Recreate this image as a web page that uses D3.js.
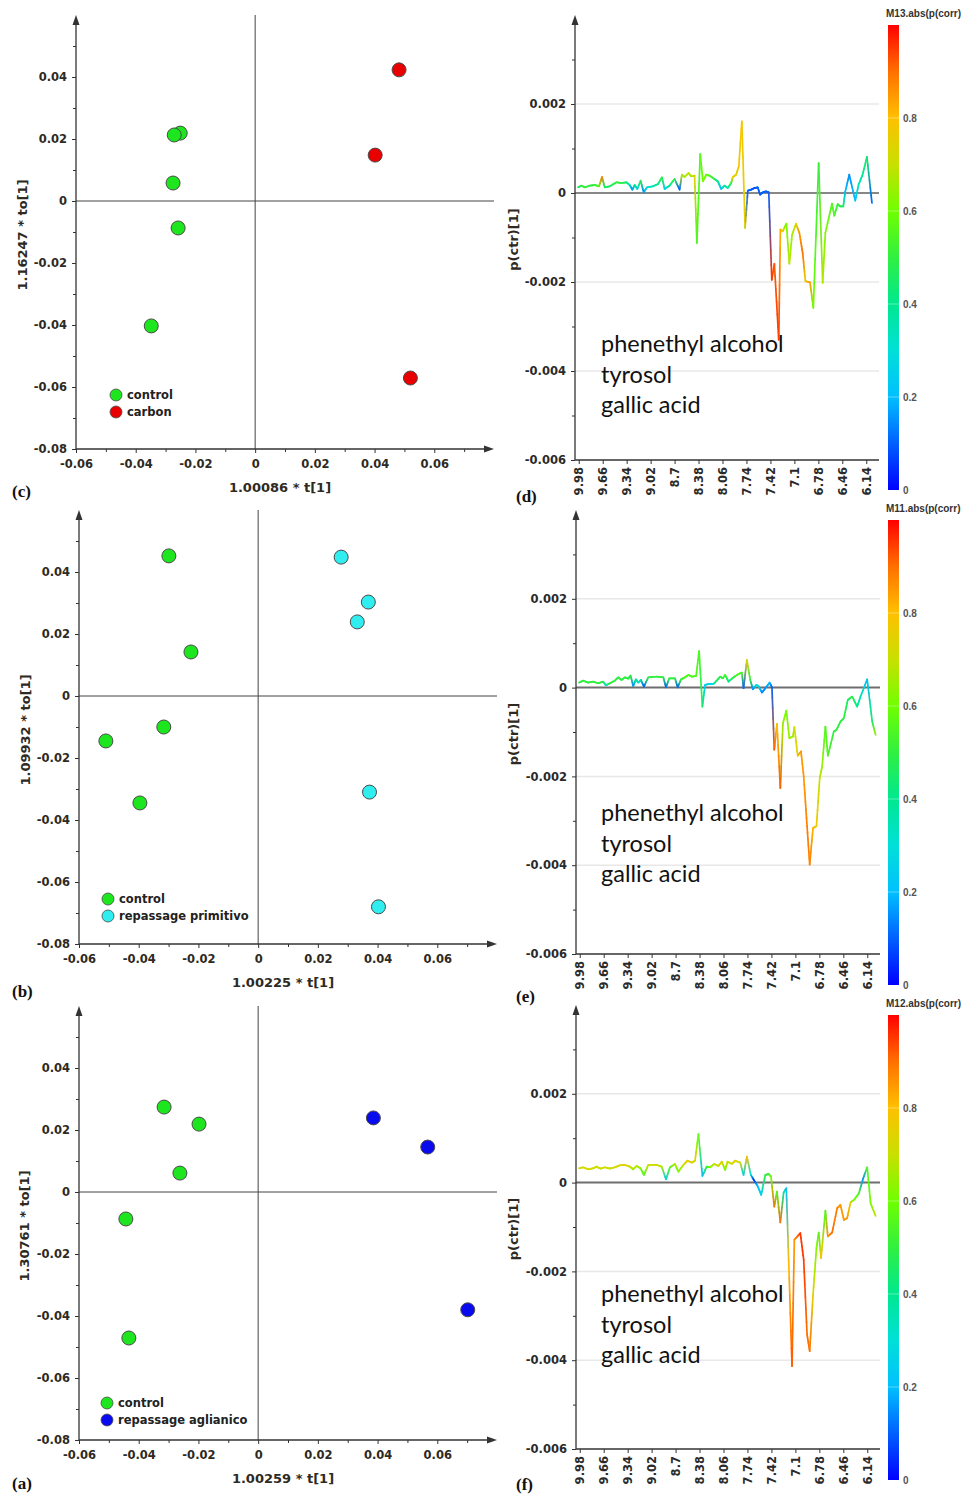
<!DOCTYPE html>
<html><head><meta charset="utf-8">
<script src="https://cdn.jsdelivr.net/npm/d3@7"></script>
<style>html,body{margin:0;padding:0;background:#fff}svg{display:block}</style>
</head><body>
<svg id="fig" width="977" height="1494"></svg>
<script>
// ---------------- DATA ----------------
// Score plots: ticks
const scoreXTicks = [-0.06, -0.04, -0.02, 0, 0.02, 0.04, 0.06];
const scoreYTicks = [-0.08, -0.06, -0.04, -0.02, 0, 0.02, 0.04];
// (c) control vs carbon
const cControlX = [-0.0251, -0.0271, -0.0275, -0.0258, -0.0348];
const cControlY = [0.0219, 0.0213, 0.0058, -0.0087, -0.0403];
const cCarbonX = [0.0482, 0.0402, 0.0520];
const cCarbonY = [0.0423, 0.0148, -0.0571];
// (b) control vs repassage primitivo
const bControlX = [-0.0299, -0.0225, -0.0316, -0.0510, -0.0396];
const bControlY = [0.0452, 0.0142, -0.0100, -0.0145, -0.0345];
const bPrimitivoX = [0.0278, 0.0369, 0.0332, 0.0373, 0.0403];
const bPrimitivoY = [0.0448, 0.0303, 0.0239, -0.0310, -0.0680];
// (a) control vs repassage aglianico
const aControlX = [-0.0315, -0.0198, -0.0262, -0.0443, -0.0433];
const aControlY = [0.0274, 0.0219, 0.0061, -0.0087, -0.0471];
const aAglianicoX = [0.0386, 0.0568, 0.0702];
const aAglianicoY = [0.0239, 0.0145, -0.0380];

// Loading plots: ticks
const ppmTicks = [9.98, 9.66, 9.34, 9.02, 8.7, 8.38, 8.06, 7.74, 7.42, 7.1, 6.78, 6.46, 6.14];
const loadYTicks = [-0.006, -0.004, -0.002, 0, 0.002];
const corrTicks = [0, 0.2, 0.4, 0.6, 0.8];
const annotations = ["phenethyl alcohol", "tyrosol", "gallic acid"];

// (d) M13
const dPpm = [9.99,9.944,9.90,9.833,9.767,9.709,9.669,9.633,9.567,9.478,9.411,9.344,9.30,9.264,9.233,9.198,9.153,9.113,9.069,8.989,8.922,8.869,8.833,8.767,8.70,8.633,8.602,8.567,8.513,8.478,8.433,8.402,8.358,8.322,8.278,8.233,8.167,8.122,8.078,8.033,7.989,7.944,7.922,7.878,7.842,7.802,7.758,7.722,7.678,7.633,7.589,7.558,7.522,7.478,7.442,7.402,7.367,7.309,7.287,7.256,7.207,7.167,7.131,7.078,7.033,6.989,6.953,6.891,6.847,6.776,6.722,6.687,6.598,6.567,6.522,6.491,6.447,6.42,6.367,6.287,6.242,6.189,6.131,6.064];
const dLoad = [0.000127,0.000165,0.000127,0.000165,0.00018,0.00015,0.00036,0.000127,0.00015,0.00024,0.000225,0.00024,0.00018,0.000075,0.00018,0.00009,0.000277,0.000015,0.000127,0.00015,0.0002,0.000352,0.00009,0.000165,0.000315,0.000075,0.000412,0.00036,0.000449,0.000375,0.00039,-0.001124,0.000876,0.000262,0.000412,0.00039,0.000315,0.000262,0.00009,0.000165,0.000112,0.000225,0.00036,0.000412,0.0006,0.00161,-0.000786,0.000052,0.000075,0.000112,0.000127,-0.000037,0.000015,0.000037,0.000015,-0.00195,-0.00159,-0.0033,-0.00082,-0.00086,-0.00069,-0.00159,-0.00094,-0.00069,-0.0009,-0.00135,-0.00198,-0.00201,-0.00258,0.00067,-0.00202,-0.0009,-0.00024,-0.00051,-0.00025,-0.0003,-0.0003,0.000037,0.000412,-0.00017,0.00019,0.000412,0.00081,-0.000225];
const dCorr = [0.45,0.5,0.5,0.5,0.5,0.55,0.88,0.45,0.45,0.5,0.5,0.45,0.35,0.15,0.4,0.25,0.5,0.15,0.3,0.35,0.4,0.5,0.25,0.4,0.5,0.1,0.7,0.65,0.7,0.65,0.75,0.55,0.55,0.6,0.6,0.55,0.5,0.4,0.2,0.4,0.35,0.5,0.75,0.75,0.78,0.78,0.75,0.1,0.1,0.08,0.1,0.1,0.1,0.1,0.1,0.95,0.92,0.95,0.82,0.78,0.6,0.68,0.65,0.72,0.85,0.9,0.75,0.85,0.6,0.5,0.68,0.62,0.55,0.55,0.5,0.5,0.45,0.2,0.15,0.2,0.35,0.4,0.45,0.1];

// (e) M11
const ePpm = [9.989,9.935,9.868,9.801,9.734,9.668,9.632,9.578,9.511,9.467,9.422,9.377,9.333,9.301,9.266,9.23,9.199,9.163,9.123,9.065,8.953,8.864,8.828,8.784,8.708,8.672,8.627,8.574,8.529,8.484,8.426,8.386,8.342,8.306,8.261,8.194,8.15,8.105,8.069,8.038,7.993,7.926,7.859,7.815,7.792,7.748,7.703,7.667,7.623,7.592,7.547,7.502,7.444,7.413,7.382,7.346,7.301,7.266,7.221,7.181,7.132,7.114,7.069,7.025,6.989,6.944,6.909,6.864,6.819,6.775,6.743,6.699,6.667,6.587,6.551,6.498,6.453,6.4,6.342,6.275,6.23,6.141,6.074,6.029];
const eLoad = [0.000112,0.000157,0.000112,0.000135,0.000097,0.000135,0.000052,0.000097,0.000157,0.000232,0.000172,0.000232,0.000202,0.00027,0.000037,0.000187,0.000112,0.000172,0.000022,0.000232,0.000247,0.000232,0.000007,0.00021,0.00021,0.000007,0.000187,0.000232,0.000285,0.000247,0.000262,0.000824,-0.000427,0.00006,0.000082,0.000082,0.000157,0.000247,0.00021,0.000285,0.000135,0.000232,0.000307,0.000337,-0.000015,0.000622,0.000172,-0.000037,0.00006,0.000037,-0.000112,-0.000015,0.000112,0.000007,-0.0014,-0.000816,-0.002262,-0.000801,-0.000517,-0.001138,-0.001101,-0.000891,-0.001535,-0.001438,-0.002,-0.003123,-0.003985,-0.003161,-0.003123,-0.002037,-0.001775,-0.000876,-0.001535,-0.000989,-0.000951,-0.000764,-0.000689,-0.000277,-0.000202,-0.000427,-0.000202,0.000187,-0.000764,-0.001064];
const eCorr = [0.5,0.5,0.5,0.5,0.5,0.5,0.3,0.5,0.5,0.5,0.5,0.5,0.5,0.5,0.15,0.4,0.3,0.4,0.1,0.5,0.5,0.5,0.1,0.5,0.5,0.1,0.5,0.55,0.55,0.55,0.55,0.55,0.45,0.25,0.25,0.3,0.45,0.5,0.5,0.55,0.4,0.5,0.55,0.55,0.1,0.75,0.5,0.15,0.3,0.3,0.15,0.15,0.2,0.1,0.92,0.78,0.92,0.65,0.6,0.65,0.65,0.7,0.75,0.85,0.85,0.88,0.88,0.82,0.78,0.7,0.65,0.55,0.55,0.5,0.5,0.5,0.5,0.45,0.5,0.4,0.35,0.2,0.45,0.65];

// (f) M12
const fPpm = [9.989,9.935,9.868,9.801,9.757,9.703,9.645,9.578,9.511,9.444,9.377,9.31,9.266,9.221,9.167,9.123,9.065,8.953,8.886,8.828,8.775,8.708,8.663,8.596,8.542,8.484,8.44,8.395,8.342,8.284,8.239,8.185,8.127,8.083,8.038,8.007,7.949,7.904,7.837,7.792,7.748,7.694,7.65,7.605,7.556,7.502,7.458,7.426,7.382,7.346,7.301,7.257,7.221,7.19,7.145,7.114,7.034,6.989,6.944,6.909,6.864,6.819,6.788,6.757,6.699,6.667,6.609,6.542,6.498,6.453,6.409,6.364,6.31,6.252,6.194,6.141,6.096,6.029];
const fLoad = [0.000322,0.000345,0.0003,0.000322,0.00036,0.000315,0.000345,0.000315,0.000345,0.00039,0.000397,0.00036,0.0003,0.000375,0.000322,0.000172,0.000397,0.000397,0.00036,0.000075,0.000345,0.000419,0.000247,0.000397,0.000494,0.000449,0.000494,0.001094,0.00015,0.00036,0.000345,0.000419,0.000375,0.000472,0.000285,0.000472,0.000419,0.000494,0.000449,0.000172,0.000584,0.000172,0.000045,-0.000075,-0.000277,0.000172,0.000195,0.000135,-0.000539,-0.000202,-0.000899,-0.000225,-0.000127,-0.001738,-0.004134,-0.001288,-0.001138,-0.001738,-0.003423,-0.003797,-0.002524,-0.001476,-0.001124,-0.0017,-0.000629,-0.001213,-0.001124,-0.000577,-0.000502,-0.000839,-0.000801,-0.000449,-0.000375,-0.00024,0.000097,0.000345,-0.000464,-0.000749];
const fCorr = [0.72,0.72,0.72,0.72,0.7,0.7,0.72,0.7,0.72,0.72,0.75,0.72,0.65,0.7,0.62,0.55,0.7,0.72,0.68,0.25,0.55,0.68,0.6,0.7,0.75,0.75,0.75,0.6,0.2,0.5,0.6,0.7,0.7,0.75,0.6,0.72,0.7,0.75,0.72,0.25,0.8,0.3,0.05,0.2,0.25,0.5,0.5,0.6,0.9,0.55,0.9,0.4,0.2,0.8,0.92,0.85,0.95,0.95,0.9,0.9,0.75,0.62,0.55,0.8,0.55,0.85,0.9,0.88,0.85,0.85,0.85,0.75,0.6,0.55,0.15,0.55,0.6,0.7];

// ---------------- STYLE ----------------
const rampStops = [0, 0.1, 0.2, 0.3, 0.4, 0.5, 0.6, 0.7, 0.8, 0.9, 1];
const rampColors = ["#0000ff","#0060ff","#00c0ff","#00e0d8","#00e890","#30f040","#70ff00","#c8e000","#ffc000","#ff7000","#ff0000"];
const cmap = d3.scaleLinear().domain(rampStops).range(rampColors).interpolate(d3.interpolateRgb).clamp(true);

const svg = d3.select("#fig");
const SANS = "'DejaVu Sans', Verdana, sans-serif";
const TXT = "#2e2a22";
const fmt = v => String(+v.toFixed(3));

function zip(xs, ys) { return xs.map((v, i) => ({x: v, y: ys[i]})); }

function arrowUp(g, x, y, color) {
  g.append("path").attr("d", `M${x},${y} L${x-3.5},${y+10} L${x+3.5},${y+10} Z`).attr("fill", color);
}
function arrowRight(g, x, y, color) {
  g.append("path").attr("d", `M${x},${y} L${x-10},${y-3.5} L${x-10},${y+3.5} Z`).attr("fill", color);
}

// ---------------- SCORE PANELS ----------------
function scorePanel(cfg) {
  const g = svg.append("g");
  const x = d3.scaleLinear().domain([-0.06, 0.08]).range([cfg.x0, cfg.x1]);
  const y = d3.scaleLinear().domain([-0.08, 0.06]).range([cfg.y0, cfg.y1]);
  const axc = "#333";

  // zero lines
  g.append("line").attr("x1", x(0)).attr("x2", x(0)).attr("y1", y(0.06)).attr("y2", y(-0.08)).attr("stroke", "#444").attr("stroke-width", 1);
  g.append("line").attr("x1", x(-0.06)).attr("x2", x(0.08)).attr("y1", y(0)).attr("y2", y(0)).attr("stroke", "#444").attr("stroke-width", 1);

  // axes
  const xAx = d3.axisBottom(x).tickValues(scoreXTicks).tickSize(4).tickPadding(7).tickFormat(fmt);
  const xMinor = d3.axisBottom(x).tickValues(scoreXTicks.map(v => v + 0.01)).tickSize(3).tickFormat("");
  const yAx = d3.axisLeft(y).tickValues(scoreYTicks).tickSize(4).tickPadding(5).tickFormat(fmt);
  const yMinor = d3.axisLeft(y).tickValues(scoreYTicks.map(v => v + 0.01)).tickSize(3).tickFormat("");
  [xAx, xMinor].forEach(a => {
    const ag = g.append("g").attr("transform", `translate(0,${cfg.y0})`).call(a);
    ag.select(".domain").remove();
  });
  [yAx, yMinor].forEach(a => {
    const ag = g.append("g").attr("transform", `translate(${cfg.x0},0)`).call(a);
    ag.select(".domain").remove();
  });
  g.selectAll(".tick line").attr("stroke", axc);
  g.selectAll(".tick text").attr("font-family", SANS).attr("font-weight", "bold").attr("font-size", "11.5px").attr("fill", TXT);

  g.append("line").attr("x1", cfg.x0).attr("x2", x(0.08) - 4).attr("y1", cfg.y0).attr("y2", cfg.y0).attr("stroke", axc).attr("stroke-width", 1.3);
  g.append("line").attr("x1", cfg.x0).attr("x2", cfg.x0).attr("y1", cfg.y0).attr("y2", y(0.06) + 4).attr("stroke", axc).attr("stroke-width", 1.3);
  arrowRight(g, x(0.08), cfg.y0, axc);
  arrowUp(g, cfg.x0, y(0.06), axc);

  // axis titles
  g.append("text").attr("x", (x(-0.06) + x(0.08)) / 2 - 5).attr("y", cfg.y0 + 43)
    .attr("text-anchor", "middle").attr("font-family", SANS).attr("font-weight", "bold").attr("font-size", "13px").attr("fill", TXT).text(cfg.xTitle);
  g.append("text").attr("transform", `translate(${cfg.yTitleX},${(cfg.y0 + cfg.y1) / 2 + 3}) rotate(-90)`)
    .attr("text-anchor", "middle").attr("font-family", SANS).attr("font-weight", "bold").attr("font-size", "13px").attr("fill", TXT).text(cfg.yTitle);

  // points
  cfg.groups.forEach(gr => {
    g.selectAll(null).data(gr.pts).enter().append("circle")
      .attr("cx", d => x(d.x)).attr("cy", d => y(d.y)).attr("r", 7)
      .attr("fill", gr.color).attr("stroke", "#4a4a4a").attr("stroke-width", 1);
  });

  // legend
  cfg.groups.forEach((gr, i) => {
    const ly = cfg.legY + i * 17;
    g.append("circle").attr("cx", cfg.legX).attr("cy", ly).attr("r", 6).attr("fill", gr.color).attr("stroke", "#4a4a4a").attr("stroke-width", 0.8);
    g.append("text").attr("x", cfg.legX + 11).attr("y", ly + 4).attr("font-family", SANS).attr("font-weight", "bold").attr("font-size", "11.5px").attr("fill", "#222").text(gr.name);
  });

  // panel letter
  g.append("text").attr("x", 12).attr("y", cfg.letterY).attr("font-family", "'Liberation Serif', 'DejaVu Serif', serif").attr("font-weight", "bold").attr("font-size", "17px").attr("fill", "#111").text(cfg.letter);
}

const GREEN = "#1ee61e", RED = "#e80000", CYAN = "#30eef0", BLUE = "#0a0aee";

scorePanel({x0: 76, x1: 494, y0: 449, y1: 15, xTitle: "1.00086 * t[1]", yTitle: "1.16247 * to[1]", yTitleX: 27,
  groups: [{name: "control", color: GREEN, pts: zip(cControlX, cControlY)}, {name: "carbon", color: RED, pts: zip(cCarbonX, cCarbonY)}],
  legX: 116, legY: 395, letter: "(c)", letterY: 497});
scorePanel({x0: 79, x1: 497, y0: 944, y1: 510, xTitle: "1.00225 * t[1]", yTitle: "1.09932 * to[1]", yTitleX: 30,
  groups: [{name: "control", color: GREEN, pts: zip(bControlX, bControlY)}, {name: "repassage primitivo", color: CYAN, pts: zip(bPrimitivoX, bPrimitivoY)}],
  legX: 108, legY: 899, letter: "(b)", letterY: 997});
scorePanel({x0: 79, x1: 497, y0: 1440, y1: 1006, xTitle: "1.00259 * t[1]", yTitle: "1.30761 * to[1]", yTitleX: 29,
  groups: [{name: "control", color: GREEN, pts: zip(aControlX, aControlY)}, {name: "repassage aglianico", color: BLUE, pts: zip(aAglianicoX, aAglianicoY)}],
  legX: 107, legY: 1403, letter: "(a)", letterY: 1489});

// ---------------- LOADING PANELS ----------------
let gradId = 0;
function loadingPanel(cfg) {
  const g = svg.append("g");
  const x = d3.scaleLinear().domain([10.03, 5.97]).range([cfg.x0, cfg.x1]);
  const y = d3.scaleLinear().domain([-0.006, 0.004]).range([cfg.yb, cfg.yt]);
  const axc = "#333";

  // grid
  [0.002, -0.002, -0.004].forEach(v => {
    g.append("line").attr("x1", cfg.x0).attr("x2", cfg.x1).attr("y1", y(v)).attr("y2", y(v)).attr("stroke", "#e8e8e8").attr("stroke-width", 1.5);
  });
  // zero line
  g.append("line").attr("x1", cfg.x0).attr("x2", cfg.x1).attr("y1", y(0)).attr("y2", y(0)).attr("stroke", cfg.zeroColor).attr("stroke-width", cfg.zeroWidth);

  // axes
  const yAx = d3.axisLeft(y).tickValues(loadYTicks).tickSize(4).tickPadding(5).tickFormat(fmt);
  const yMinor = d3.axisLeft(y).tickValues(loadYTicks.map(v => v + 0.001)).tickSize(3).tickFormat("");
  [yAx, yMinor].forEach(a => {
    const ag = g.append("g").attr("transform", `translate(${cfg.x0},0)`).call(a);
    ag.select(".domain").remove();
  });
  const xAx = d3.axisBottom(x).tickValues(ppmTicks).tickSize(4).tickFormat(v => String(v));
  const xg = g.append("g").attr("transform", `translate(0,${cfg.yb})`).call(xAx);
  xg.select(".domain").remove();
  xg.selectAll(".tick text").attr("transform", "rotate(-90)").attr("text-anchor", "end")
    .attr("x", -7).attr("y", 0).attr("dy", "0.35em");
  g.selectAll(".tick line").attr("stroke", axc);
  g.selectAll(".tick text").attr("font-family", SANS).attr("font-weight", "bold").attr("font-size", "11.5px").attr("fill", "#2a2a2a");

  g.append("line").attr("x1", cfg.x0).attr("x2", cfg.x1).attr("y1", cfg.yb).attr("y2", cfg.yb).attr("stroke", axc).attr("stroke-width", 1.3);
  g.append("line").attr("x1", cfg.x0).attr("x2", cfg.x0).attr("y1", cfg.yb).attr("y2", y(0.004) + 4).attr("stroke", axc).attr("stroke-width", 1.3);
  arrowUp(g, cfg.x0, y(0.004), axc);

  // y title
  g.append("text").attr("transform", `translate(518,${y(-0.001) + 2}) rotate(-90)`)
    .attr("text-anchor", "middle").attr("font-family", SANS).attr("font-weight", "bold").attr("font-size", "13px").attr("fill", TXT).text("p(ctr)[1]");

  // colored line: each segment split into short pieces with RGB-interpolated colour
  const K = 6;
  const lg = g.append("g").attr("stroke-width", 1.7).attr("stroke-linecap", "round");
  for (let i = 0; i < cfg.ppm.length - 1; i++) {
    const xa = x(cfg.ppm[i]), ya = y(cfg.load[i]), xb = x(cfg.ppm[i + 1]), yb = y(cfg.load[i + 1]);
    const ci = d3.interpolateRgb(cmap(cfg.corr[i]), cmap(cfg.corr[i + 1]));
    for (let k = 0; k < K; k++) {
      const t0 = k / K, t1 = (k + 1) / K;
      lg.append("line").attr("x1", xa + (xb - xa) * t0).attr("y1", ya + (yb - ya) * t0)
        .attr("x2", xa + (xb - xa) * t1).attr("y2", ya + (yb - ya) * t1)
        .attr("stroke", ci((t0 + t1) / 2));
    }
  }

  // annotations
  annotations.forEach((t, i) => {
    g.append("text").attr("x", 601).attr("y", cfg.annY + i * 30.5).attr("font-family", "Lato, 'Open Sans', sans-serif")
      .attr("font-size", "23.5px").attr("fill", "#111").text(t);
  });

  // colour bar
  const cb = d3.scaleLinear().domain([0, 1]).range([cfg.cbBottom, cfg.cbBottom - 465]);
  const id = "grad" + (gradId++);
  const grad = svg.append("defs").append("linearGradient").attr("id", id).attr("x1", 0).attr("y1", 1).attr("x2", 0).attr("y2", 0);
  rampStops.forEach((s, i) => grad.append("stop").attr("offset", s).attr("stop-color", rampColors[i]));
  g.append("rect").attr("x", 888).attr("y", cb(1)).attr("width", 11).attr("height", cb(0) - cb(1)).attr("fill", `url(#${id})`);
  corrTicks.forEach(v => {
    if (v > 0) g.append("line").attr("x1", 888).attr("x2", 899).attr("y1", cb(v)).attr("y2", cb(v)).attr("stroke", "rgba(255,255,255,0.35)").attr("stroke-width", 1);
    g.append("text").attr("x", 903).attr("y", cb(v) + 4).attr("font-family", "'Liberation Sans', Arial, sans-serif").attr("font-weight", "bold")
      .attr("font-size", "10px").attr("fill", "#555").text(fmt(v));
  });
  g.append("text").attr("x", 886).attr("y", cb(1) - 8).attr("font-family", "'Liberation Sans', Arial, sans-serif").attr("font-weight", "bold")
    .attr("font-size", "10px").attr("fill", "#333").text(cfg.cbTitle);

  // panel letter
  g.append("text").attr("x", 516).attr("y", cfg.letterY).attr("font-family", "'Liberation Serif', 'DejaVu Serif', serif").attr("font-weight", "bold").attr("font-size", "17px").attr("fill", "#111").text(cfg.letter);
}

loadingPanel({x0: 575, x1: 879, yb: 460, yt: 15, ppm: dPpm, load: dLoad, corr: dCorr, zeroColor: "#111", zeroWidth: 1,
  annY: 352, cbBottom: 490, cbTitle: "M13.abs(p(corr)", letter: "(d)", letterY: 502});
loadingPanel({x0: 576, x1: 880, yb: 954, yt: 510, ppm: ePpm, load: eLoad, corr: eCorr, zeroColor: "#6e6e6e", zeroWidth: 2,
  annY: 821, cbBottom: 985, cbTitle: "M11.abs(p(corr)", letter: "(e)", letterY: 1002});
loadingPanel({x0: 576, x1: 880, yb: 1449, yt: 1005, ppm: fPpm, load: fLoad, corr: fCorr, zeroColor: "#6e6e6e", zeroWidth: 2,
  annY: 1302, cbBottom: 1480, cbTitle: "M12.abs(p(corr)", letter: "(f)", letterY: 1490});
</script>
</body></html>
